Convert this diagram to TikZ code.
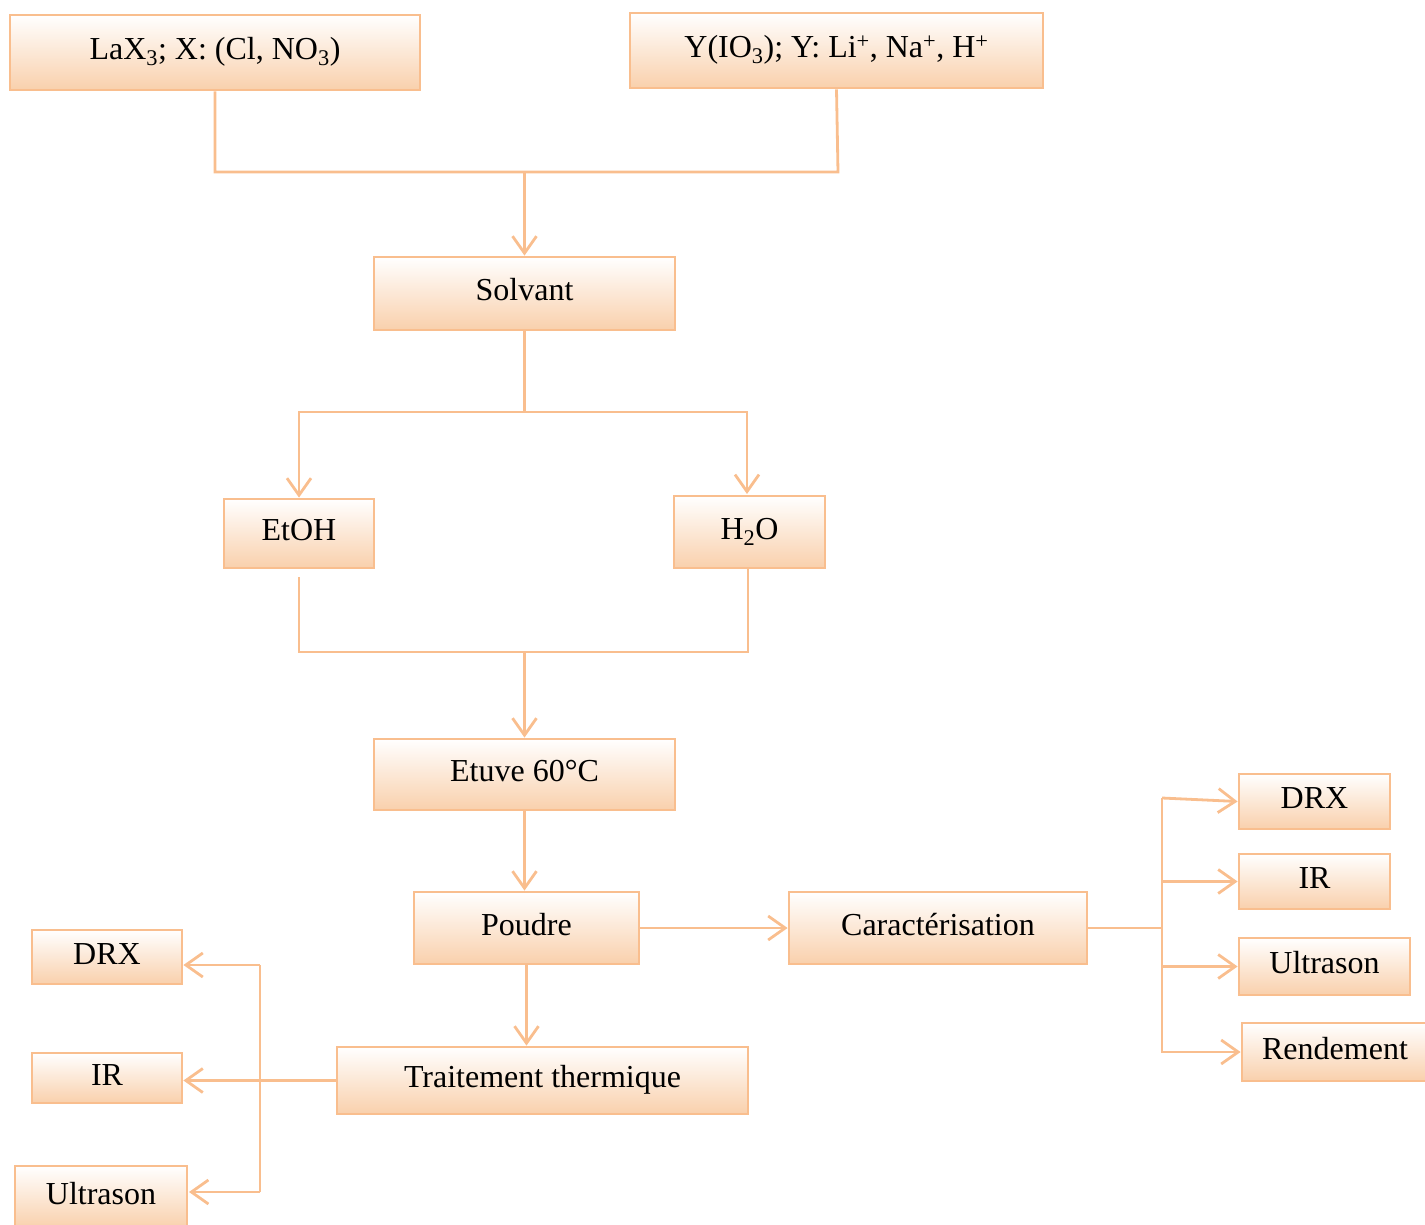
\documentclass[tikz,border=0pt]{standalone}
\usepackage{fontspec}
\setmainfont{Liberation Serif}
\usetikzlibrary{arrows.meta}
\definecolor{edge}{RGB}{249,190,142}
\definecolor{peach}{RGB}{249,208,172}
\tikzset{
  box/.style={draw=edge, line width=2.8pt, rectangle, inner sep=0pt,
    top color=white, bottom color=peach, shading angle=0,
    text height=24pt, text depth=10pt,
    font=\fontsize{32}{38}\selectfont},
  conn/.style={draw=edge, line width=2.8pt},
  arr/.style={conn, -{Straight Barb[length=17pt,width=24pt,line width=2.8pt]}}
}
\newcommand{\bx}[6]{\node[box, minimum width=#4-#2, minimum height=#5-#3] (#1) at ({(#2+#4)/2},{(#3+#5)/2}) {#6};}
\begin{document}
\begin{tikzpicture}[x=1pt,y=-1pt]
\useasboundingbox (0,0) rectangle (1425,1225);
\bx{lax}{10}{15}{420}{90}{LaX\textsubscript{3}; X: (Cl, NO\textsubscript{3})}
\bx{yio}{630}{13}{1043}{88}{Y(IO\textsubscript{3}); Y: Li\textsuperscript{+}, Na\textsuperscript{+}, H\textsuperscript{+}}
\bx{solv}{374}{257}{675}{330}{Solvant}
\bx{etoh}{224}{499}{374}{568}{EtOH}
\bx{h2o}{674}{496}{825}{568}{H\textsubscript{2}O}
\bx{etuve}{374}{739}{675}{810}{Etuve 60°C}
\bx{poudre}{414}{892}{639}{964}{Poudre}
\bx{carac}{789}{892}{1087}{964}{Caractérisation}
\bx{trait}{337}{1047}{748}{1114}{Traitement thermique}
\bx{ldrx}{32}{930}{182}{984}{DRX}
\bx{lir}{32}{1053}{182}{1103}{IR}
\bx{lult}{15}{1166}{187}{1228}{Ultrason}
\bx{rdrx}{1239}{774}{1390}{829}{DRX}
\bx{rir}{1239}{854}{1390}{909}{IR}
\bx{rult}{1239}{938}{1410}{995}{Ultrason}
\bx{rend}{1242}{1023}{1428}{1081}{Rendement}

% top merge
\coordinate (j1) at (524.5,172);
\draw[conn] (lax.south) -- (215,172) -- (838,172) -- (yio.south);
\draw[arr] (j1) -- (solv.north);
% solvant split
\coordinate (j2) at (524.5,412);
\draw[conn] (solv.south) -- (j2);
\draw[arr] (j2) -- (299,412) -- (etoh.north);
\draw[arr] (j2) -- (747,412) -- (747,494);
% merge to etuve
\coordinate (j3) at (524.5,652);
\draw[conn] (299,577) -- (299,652) -- (748,652) -- (748,568);
\draw[arr] (j3) -- (etuve.north);
\draw[arr] (etuve.south) -- (etuve.south |- poudre.north);
\draw[arr] (poudre.east) -- (poudre.east -| carac.west);
\draw[arr] (poudre.south) -- (poudre.south |- trait.north);
% right fan
\coordinate (rj) at (1162,930);
\draw[conn] (carac.east) -- (carac.east -| rj);
\draw[conn] (1162,798) -- (1162,1053);
\draw[arr] (1162,798) -- (rdrx.west);
\draw[arr] (rir.west -| rj) -- (rir.west);
\draw[arr] (rult.west -| rj) -- (rult.west);
\draw[arr] (rend.west -| rj) -- (rend.west);
% left fan
\draw[arr] (trait.west) -- (trait.west -| lir.east);
\coordinate (lj) at (260,965);
\draw[conn] (lj) -- (260,1192);
\draw[arr] (lj) -- (lj -| ldrx.east);
\draw[arr] (260,1192) -- (189,1192);
\end{tikzpicture}
\end{document}
